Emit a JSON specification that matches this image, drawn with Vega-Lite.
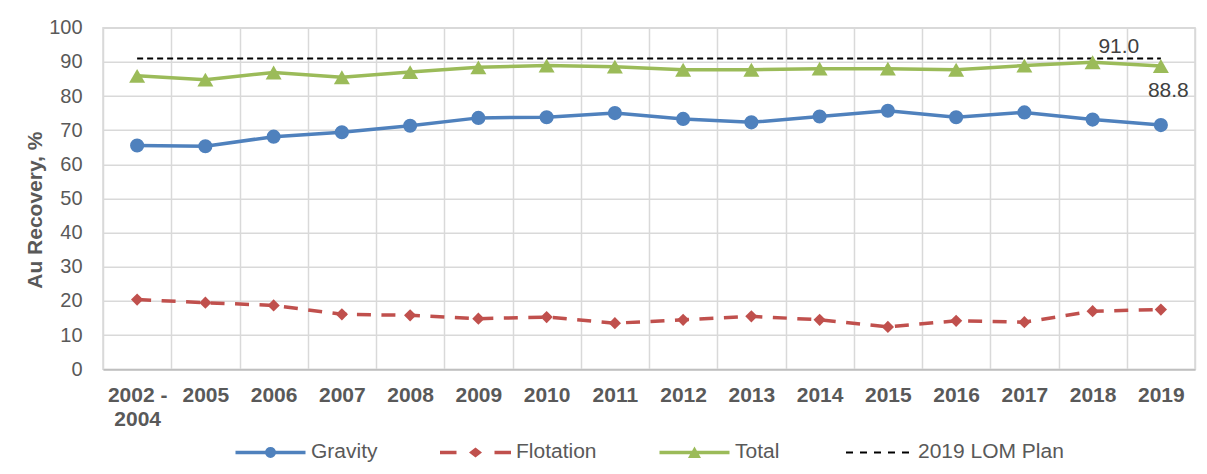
{
  "$schema": "https://vega.github.io/schema/vega-lite/v6.json",
  "width": 1092,
  "height": 341.6,
  "padding": {"left": 24, "top": 17.7, "right": 13, "bottom": 0},
  "background": "white",
  "config": {
    "font": "Liberation Sans",
    "view": {"stroke": "#D9D9D9", "strokeWidth": 1.5},
    "axis": {"gridColor": "#D9D9D9", "gridWidth": 1.5, "labelColor": "#595959", "titleColor": "#595959"}
  },
  "datasets": {
    "main": [
      {"year": "2002 - 2004", "series": "Gravity", "value": 65.5},
      {"year": "2005", "series": "Gravity", "value": 65.3},
      {"year": "2006", "series": "Gravity", "value": 68.1},
      {"year": "2007", "series": "Gravity", "value": 69.4},
      {"year": "2008", "series": "Gravity", "value": 71.3},
      {"year": "2009", "series": "Gravity", "value": 73.6},
      {"year": "2010", "series": "Gravity", "value": 73.8},
      {"year": "2011", "series": "Gravity", "value": 75.0},
      {"year": "2012", "series": "Gravity", "value": 73.3},
      {"year": "2013", "series": "Gravity", "value": 72.3},
      {"year": "2014", "series": "Gravity", "value": 74.0},
      {"year": "2015", "series": "Gravity", "value": 75.7},
      {"year": "2016", "series": "Gravity", "value": 73.8},
      {"year": "2017", "series": "Gravity", "value": 75.2},
      {"year": "2018", "series": "Gravity", "value": 73.1},
      {"year": "2019", "series": "Gravity", "value": 71.5},
      {"year": "2002 - 2004", "series": "Flotation", "value": 20.4},
      {"year": "2005", "series": "Flotation", "value": 19.5},
      {"year": "2006", "series": "Flotation", "value": 18.7},
      {"year": "2007", "series": "Flotation", "value": 16.1},
      {"year": "2008", "series": "Flotation", "value": 15.8},
      {"year": "2009", "series": "Flotation", "value": 14.8},
      {"year": "2010", "series": "Flotation", "value": 15.3},
      {"year": "2011", "series": "Flotation", "value": 13.5},
      {"year": "2012", "series": "Flotation", "value": 14.5},
      {"year": "2013", "series": "Flotation", "value": 15.5},
      {"year": "2014", "series": "Flotation", "value": 14.5},
      {"year": "2015", "series": "Flotation", "value": 12.4},
      {"year": "2016", "series": "Flotation", "value": 14.2},
      {"year": "2017", "series": "Flotation", "value": 13.8},
      {"year": "2018", "series": "Flotation", "value": 17.0},
      {"year": "2019", "series": "Flotation", "value": 17.5},
      {"year": "2002 - 2004", "series": "Total", "value": 85.9},
      {"year": "2005", "series": "Total", "value": 84.8},
      {"year": "2006", "series": "Total", "value": 86.9},
      {"year": "2007", "series": "Total", "value": 85.5},
      {"year": "2008", "series": "Total", "value": 87.0},
      {"year": "2009", "series": "Total", "value": 88.4},
      {"year": "2010", "series": "Total", "value": 88.9},
      {"year": "2011", "series": "Total", "value": 88.6},
      {"year": "2012", "series": "Total", "value": 87.7},
      {"year": "2013", "series": "Total", "value": 87.7},
      {"year": "2014", "series": "Total", "value": 88.0},
      {"year": "2015", "series": "Total", "value": 88.0},
      {"year": "2016", "series": "Total", "value": 87.7},
      {"year": "2017", "series": "Total", "value": 88.9},
      {"year": "2018", "series": "Total", "value": 89.9},
      {"year": "2019", "series": "Total", "value": 88.8},
      {"year": "2002 - 2004", "series": "2019 LOM Plan", "value": 91.0},
      {"year": "2005", "series": "2019 LOM Plan", "value": 91.0},
      {"year": "2006", "series": "2019 LOM Plan", "value": 91.0},
      {"year": "2007", "series": "2019 LOM Plan", "value": 91.0},
      {"year": "2008", "series": "2019 LOM Plan", "value": 91.0},
      {"year": "2009", "series": "2019 LOM Plan", "value": 91.0},
      {"year": "2010", "series": "2019 LOM Plan", "value": 91.0},
      {"year": "2011", "series": "2019 LOM Plan", "value": 91.0},
      {"year": "2012", "series": "2019 LOM Plan", "value": 91.0},
      {"year": "2013", "series": "2019 LOM Plan", "value": 91.0},
      {"year": "2014", "series": "2019 LOM Plan", "value": 91.0},
      {"year": "2015", "series": "2019 LOM Plan", "value": 91.0},
      {"year": "2016", "series": "2019 LOM Plan", "value": 91.0},
      {"year": "2017", "series": "2019 LOM Plan", "value": 91.0},
      {"year": "2018", "series": "2019 LOM Plan", "value": 91.0},
      {"year": "2019", "series": "2019 LOM Plan", "value": 91.0}
    ]
  },
  "data": {"name": "main"},
  "encoding": {
    "x": {
      "field": "year",
      "type": "ordinal",
      "sort": null,
      "scale": {"type": "band", "paddingInner": 0, "paddingOuter": 0},
      "axis": {
        "title": null,
        "labelAngle": 0,
        "labelFontSize": 21,
        "labelFontWeight": "bold",
        "labelPadding": 15,
        "labelLineHeight": 24,
        "labelExpr": "datum.value == '2002 - 2004' ? ['2002 -', '2004'] : datum.value",
        "tickBand": "extent",
        "ticks": false,
        "grid": true,
        "domainColor": "#BFBFBF",
        "domainWidth": 1.5
      }
    },
    "y": {
      "field": "value",
      "type": "quantitative",
      "scale": {"domain": [0, 100], "nice": false},
      "axis": {
        "title": "Au Recovery, %",
        "titleFontSize": 21,
        "titleFontWeight": "bold",
        "titlePadding": 3,
        "titleY": 182,
        "titleAlign": "center",
        "labelFontSize": 20,
        "labelPadding": 21,
        "values": [0, 10, 20, 30, 40, 50, 60, 70, 80, 90, 100],
        "ticks": false,
        "domain": false,
        "grid": true
      }
    }
  },
  "layer": [
    {
      "transform": [{"filter": "datum.series == 'Gravity'"}],
      "mark": {"type": "line", "color": "#4F81BD", "strokeWidth": 3.5}
    },
    {
      "transform": [{"filter": "datum.series == 'Flotation'"}],
      "mark": {"type": "line", "color": "#C0504D", "strokeWidth": 3.5, "strokeDash": [14, 10.5]}
    },
    {
      "transform": [{"filter": "datum.series == 'Total'"}],
      "mark": {"type": "line", "color": "#9BBB59", "strokeWidth": 3.5}
    },
    {
      "transform": [{"filter": "datum.series == '2019 LOM Plan'"}],
      "mark": {"type": "line", "color": "#000000", "strokeWidth": 2, "strokeDash": [6, 4]}
    },
    {
      "transform": [{"filter": "datum.series == 'Gravity'"}],
      "mark": {"type": "point", "shape": "circle", "filled": true, "opacity": 1, "size": 200, "color": "#4F81BD"}
    },
    {
      "transform": [{"filter": "datum.series == 'Flotation'"}],
      "mark": {"type": "point", "shape": "diamond", "filled": true, "opacity": 1, "size": 150, "color": "#C0504D"}
    },
    {
      "transform": [{"filter": "datum.series == 'Total'"}],
      "mark": {"type": "point", "shape": "triangle-up", "filled": true, "opacity": 1, "size": 256, "color": "#9BBB59"}
    },
    {
      "transform": [{"filter": "datum.series == '2019 LOM Plan' && datum.year == '2019'"}],
      "mark": {"type": "text", "fontSize": 21, "color": "#404040", "align": "center", "baseline": "alphabetic", "dx": -42, "dy": -5},
      "encoding": {"text": {"field": "value", "type": "quantitative", "format": ".1f"}}
    },
    {
      "transform": [{"filter": "datum.series == 'Total' && datum.year == '2019'"}],
      "mark": {"type": "text", "fontSize": 21, "color": "#404040", "align": "center", "baseline": "middle", "dx": 7.5, "dy": 25},
      "encoding": {"text": {"field": "value", "type": "quantitative", "format": ".1f"}}
    },
    {
      "data": {"values": []},
      "mark": {"type": "point", "filled": true, "opacity": 1},
      "encoding": {
        "x": {"field": "key", "type": "nominal"},
        "y": {"field": "v", "type": "quantitative"},
        "color": {
          "field": "key",
          "type": "nominal",
          "scale": {"domain": ["Gravity", "Flotation", "Total", "2019 LOM Plan"], "range": ["#4F81BD", "#C0504D", "#9BBB59", "#000000"]},
          "legend": {
            "title": null,
            "orient": "none",
            "direction": "horizontal",
            "legendX": 127,
            "legendY": 414,
            "padding": 0,
            "symbolSize": 100,
            "symbolStrokeWidth": 0,
            "symbolOffset": 30,
            "labelOffset": 30,
            "columnPadding": 57,
            "labelFontSize": 21,
            "labelColor": "#595959",
            "labelFont": "Liberation Sans"
          }
        },
        "shape": {
          "field": "key",
          "type": "nominal",
          "scale": {
            "domain": ["Gravity", "Flotation", "Total", "2019 LOM Plan"],
            "range": [
              "M-7,-0.35H7V0.35H-7Z M1.1,0L1.016,0.421L0.778,0.778L0.421,1.016L0,1.1L-0.421,1.016L-0.778,0.778L-1.016,0.421L-1.1,0L-1.016,-0.421L-0.778,-0.778L-0.421,-1.016L0,-1.1L0.421,-1.016L0.778,-0.778L1.016,-0.421Z",
              "M-7.1,-0.35H-3.8V0.35H-7.1Z M3.8,-0.35H7.1V0.35H3.8Z M0,-1.0L1.3,0L0,1.0L-1.3,0Z",
              "M-7,-0.35H7V0.35H-7Z M0,-1.2L1.3,1.1L-1.3,1.1Z",
              "M-6.3,-0.2H-4.9V0.2H-6.3Z M-3.5,-0.2H-2.1V0.2H-3.5Z M-0.7,-0.2H0.7V0.2H-0.7Z M2.1,-0.2H3.5V0.2H2.1Z M4.9,-0.2H6.3V0.2H4.9Z"
            ]
          },
          "legend": {
            "title": null,
            "orient": "none",
            "direction": "horizontal",
            "legendX": 127,
            "legendY": 414,
            "padding": 0,
            "symbolSize": 100,
            "symbolStrokeWidth": 0,
            "symbolOffset": 30,
            "labelOffset": 30,
            "columnPadding": 57,
            "labelFontSize": 21,
            "labelColor": "#595959",
            "labelFont": "Liberation Sans"
          }
        }
      }
    }
  ]
}
